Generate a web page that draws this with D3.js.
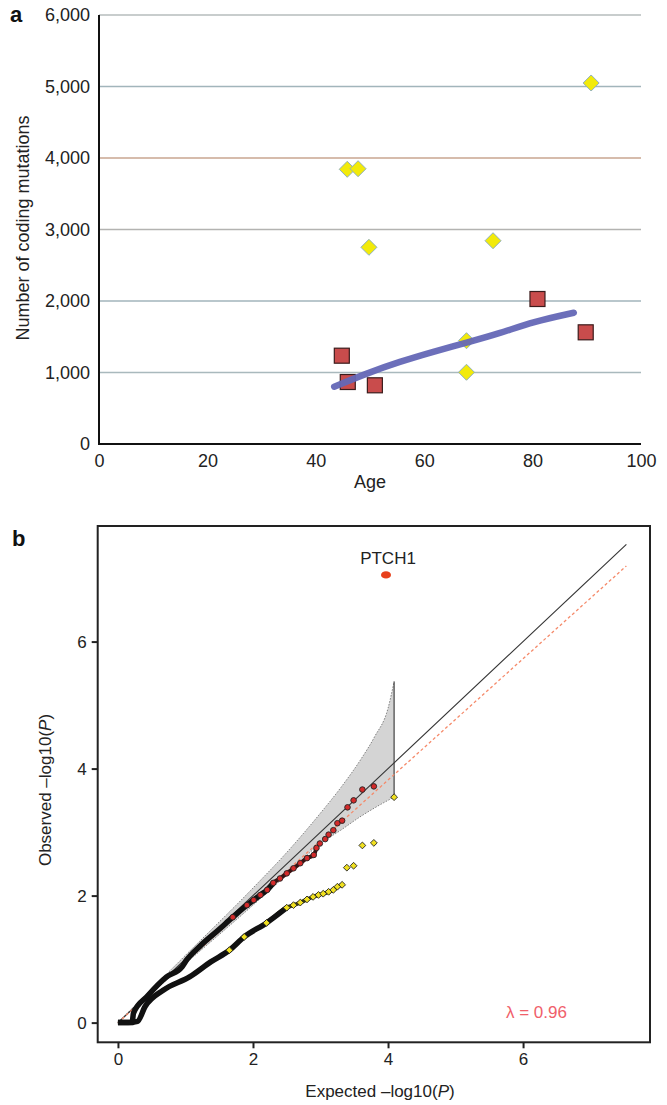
<!DOCTYPE html>
<html>
<head>
<meta charset="utf-8">
<script src="https://cdn.jsdelivr.net/npm/d3@7"></script>
<style>
  body { margin: 0; background: #fff; }
  svg { display: block; font-family: "Liberation Sans", Arial, Helvetica, sans-serif; }
</style>
</head>
<body>
<svg id="chart" width="667" height="1105"></svg>
<script>
// ---- panel a data ----
var ageTicks = [0, 20, 40, 60, 80, 100];
var mutTicks = [0, 1000, 2000, 3000, 4000, 5000, 6000];
var diamondAge = [45.8, 47.8, 49.8, 72.7, 90.8, 67.8, 67.8];
var diamondMut = [3842, 3850, 2751, 2843, 5049, 1445, 1003];
var squareAge = [44.8, 45.9, 50.9, 80.9, 89.8];
var squareMut = [1235, 867, 821, 2028, 1562];
var trendAge = [43.4, 49.4, 55.5, 61.7, 67.8, 74.0, 80.1, 87.6];
var trendMut = [801, 989, 1151, 1291, 1417, 1548, 1711, 1836];

// ---- panel b data ----
var qqTicks = [0, 2, 4, 6];
// upper series (red circles)
var redExp = [0, 0.1, 0.21, 0.23, 0.43, 0.72, 0.95, 1.02, 1.21, 1.5, 1.7, 1.91, 2.01, 2.11, 2.21, 2.30, 2.40, 2.50, 2.60, 2.70, 2.80, 2.90, 2.94, 2.99, 3.07, 3.12, 3.19, 3.25, 3.32, 3.40, 3.49, 3.62, 3.79];
var redObs = [0, 0, 0, 0.15, 0.41, 0.72, 0.88, 0.99, 1.20, 1.47, 1.66, 1.85, 1.93, 2.01, 2.09, 2.20, 2.27, 2.35, 2.43, 2.51, 2.59, 2.64, 2.75, 2.82, 2.89, 2.96, 3.03, 3.14, 3.18, 3.39, 3.50, 3.67, 3.72];
// lower series (yellow diamonds)
var yelExp = [0, 0.15, 0.29, 0.40, 0.67, 1.06, 1.38, 1.65, 1.87, 2.20, 2.50, 2.60, 2.70, 2.80, 2.89, 2.97, 3.04, 3.12, 3.19, 3.25, 3.32, 3.39, 3.49, 3.62, 3.79, 4.09];
var yelObs = [0, 0, 0.02, 0.25, 0.51, 0.72, 0.96, 1.14, 1.35, 1.57, 1.81, 1.85, 1.89, 1.94, 1.98, 2.01, 2.03, 2.06, 2.09, 2.14, 2.17, 2.44, 2.47, 2.79, 2.83, 3.55];
// confidence band
var bandExp = [0, 1, 2, 2.5, 3, 3.3, 3.6, 3.8, 4.0, 4.09];
var bandHi = [0, 1.06, 2.12, 2.68, 3.3, 3.7, 4.15, 4.5, 4.95, 5.37];
var bandLo = [0, 0.93, 1.85, 2.33, 2.82, 3.03, 3.25, 3.38, 3.5, 3.55];
var lineEnd = 7.53;
var lambda = 0.955;
var topGene = { name: "PTCH1", exp: 3.97, obs: 7.05 };

var svg = d3.select("#chart");

// ================= panel a =================
var xa = d3.scaleLinear().domain([0, 100]).range([99, 641]);
var ya = d3.scaleLinear().domain([0, 6000]).range([444, 15]);
var gridColors = {1000: "#a9b9bd", 2000: "#a2b5bb", 3000: "#b3b3b1", 4000: "#c9a690", 5000: "#a2b5bb", 6000: "#b6bcbc"};

var ga = svg.append("g");
ga.selectAll("line.grid").data(mutTicks.filter(function (d) { return d > 0; }))
  .enter().append("line")
  .attr("x1", xa(0)).attr("x2", xa(100))
  .attr("y1", function (d) { return ya(d); }).attr("y2", function (d) { return ya(d); })
  .attr("stroke", function (d) { return gridColors[d]; })
  .attr("stroke-width", 1.5);

var axA = ga.append("g").attr("transform", "translate(" + xa(0) + ",0)")
  .call(d3.axisLeft(ya).tickValues(mutTicks).tickSize(0).tickPadding(9).tickFormat(d3.format(",")));
axA.select(".domain").remove();
axA.selectAll("text").attr("font-size", 18).attr("fill", "#222").attr("font-family", null);

var axAx = ga.append("g").attr("transform", "translate(0," + ya(0) + ")")
  .call(d3.axisBottom(xa).tickValues(ageTicks).tickSize(0).tickPadding(10));
axAx.select(".domain").remove();
axAx.selectAll("text").attr("font-size", 18).attr("fill", "#222").attr("font-family", null);

// axis lines
ga.append("line").attr("x1", xa(0)).attr("x2", xa(0)).attr("y1", ya(6000)).attr("y2", ya(0) + 1)
  .attr("stroke", "#111").attr("stroke-width", 2);
ga.append("line").attr("x1", xa(0) - 1).attr("x2", xa(100)).attr("y1", ya(0)).attr("y2", ya(0))
  .attr("stroke", "#111").attr("stroke-width", 2);

// diamonds
ga.selectAll("path.dia").data(diamondAge).enter().append("path")
  .attr("d", "M0,-8L8,0L0,8L-8,0Z")
  .attr("transform", function (d, i) { return "translate(" + xa(d) + "," + ya(diamondMut[i]) + ")"; })
  .attr("fill", "#f2ea0a").attr("stroke", "#8fb0bd").attr("stroke-width", 1);

// squares
ga.selectAll("rect.sq").data(squareAge).enter().append("rect")
  .attr("x", function (d) { return xa(d) - 7.5; })
  .attr("y", function (d, i) { return ya(squareMut[i]) - 7.5; })
  .attr("width", 15).attr("height", 15)
  .attr("fill", "#c94c4c").attr("stroke", "#3b1c1c").attr("stroke-width", 1.2);

// trend line
var trendLine = d3.line().x(function (d) { return xa(d); }).y(function (d, i) { return ya(trendMut[i]); })
  .curve(d3.curveBasis);
ga.append("path").datum(trendAge).attr("d", trendLine)
  .attr("fill", "none").attr("stroke", "#6467b6").attr("stroke-width", 6.5)
  .attr("stroke-linecap", "round").attr("opacity", 0.95);

ga.append("text").attr("x", 370).attr("y", 488).attr("text-anchor", "middle")
  .attr("font-size", 18).attr("fill", "#222").text("Age");
ga.append("text").attr("transform", "translate(29,228) rotate(-90)").attr("text-anchor", "middle")
  .attr("font-size", 18).attr("fill", "#222").text("Number of coding mutations");
ga.append("text").attr("x", 10).attr("y", 22).attr("font-size", 22).attr("font-weight", "bold")
  .attr("fill", "#111").text("a");

// ================= panel b =================
var xb = d3.scaleLinear().domain([-0.3, 7.88]).range([97.7, 650]);
var yb = d3.scaleLinear().domain([-0.31, 7.82]).range([1042.3, 526]);
var gb = svg.append("g");

// band
var bandArea = d3.area().x(function (d) { return xb(d); })
  .y0(function (d, i) { return yb(bandLo[i]); }).y1(function (d, i) { return yb(bandHi[i]); })
  .curve(d3.curveMonotoneX);
gb.append("path").datum(bandExp).attr("d", bandArea).attr("fill", "#d4d4d4");
var edge = function (arr) {
  return d3.line().x(function (d) { return xb(d); }).y(function (d, i) { return yb(arr[i]); })
    .curve(d3.curveMonotoneX);
};
gb.append("path").datum(bandExp).attr("d", edge(bandHi)).attr("fill", "none")
  .attr("stroke", "#666").attr("stroke-width", 0.8).attr("stroke-dasharray", "1.5,1.5");
gb.append("path").datum(bandExp).attr("d", edge(bandLo)).attr("fill", "none")
  .attr("stroke", "#666").attr("stroke-width", 0.8).attr("stroke-dasharray", "1.5,1.5");
var bEnd = bandExp[bandExp.length - 1];
gb.append("line").attr("x1", xb(bEnd)).attr("x2", xb(bEnd))
  .attr("y1", yb(bandLo[bandLo.length - 1])).attr("y2", yb(bandHi[bandHi.length - 1]))
  .attr("stroke", "#333").attr("stroke-width", 1.1);

// reference lines
gb.append("line").attr("x1", xb(0)).attr("y1", yb(0)).attr("x2", xb(lineEnd)).attr("y2", yb(lineEnd))
  .attr("stroke", "#333").attr("stroke-width", 1.1);
gb.append("line").attr("x1", xb(0)).attr("y1", yb(0)).attr("x2", xb(lineEnd)).attr("y2", yb(lineEnd * lambda))
  .attr("stroke", "#f58a6a").attr("stroke-width", 1.3).attr("stroke-dasharray", "3,2.5");

// dense parts: overlapping markers read as a dark trace
var dense = function (ex, ob, maxX) {
  var pts = ex.map(function (d, i) { return [d, ob[i]]; }).filter(function (p) { return p[0] <= maxX; });
  return d3.line().x(function (p) { return xb(p[0]); }).y(function (p) { return yb(p[1]); })
    .curve(d3.curveMonotoneX)(pts);
};
gb.append("path").attr("d", dense(yelExp, yelObs, 3.32)).attr("fill", "none")
  .attr("stroke", "#3a3a10").attr("stroke-width", 4).attr("stroke-linejoin", "round");
gb.append("path").attr("d", dense(yelExp, yelObs, 2.5)).attr("fill", "none")
  .attr("stroke", "#111").attr("stroke-width", 5.5).attr("stroke-linejoin", "round");
gb.append("path").attr("d", dense(redExp, redObs, 2.95)).attr("fill", "none")
  .attr("stroke", "#3a1010").attr("stroke-width", 4).attr("stroke-linejoin", "round");
gb.append("path").attr("d", dense(redExp, redObs, 2.3)).attr("fill", "none")
  .attr("stroke", "#111").attr("stroke-width", 5.5).attr("stroke-linejoin", "round");

gb.selectAll("path.yd").data(yelExp.filter(function (d) { return d > 1.5; })).enter().append("path")
  .attr("d", "M0,-3.4L3.4,0L0,3.4L-3.4,0Z")
  .attr("transform", function (d) { var i = yelExp.indexOf(d); return "translate(" + xb(d) + "," + yb(yelObs[i]) + ")"; })
  .attr("fill", "#f0e020").attr("stroke", "#222").attr("stroke-width", 0.9);
gb.selectAll("circle.rd").data(redExp.filter(function (d) { return d > 1.5; })).enter().append("circle")
  .attr("cx", function (d) { return xb(d); })
  .attr("cy", function (d) { var i = redExp.indexOf(d); return yb(redObs[i]); })
  .attr("r", 2.8).attr("fill", "#d42a2a").attr("stroke", "#222").attr("stroke-width", 0.9);

// top gene
gb.append("ellipse").attr("cx", xb(topGene.exp)).attr("cy", yb(topGene.obs)).attr("rx", 5).attr("ry", 3.6)
  .attr("fill", "#e8401c");
gb.append("text").attr("x", xb(topGene.exp) + 2).attr("y", yb(topGene.obs) - 11).attr("text-anchor", "middle")
  .attr("font-size", 17).attr("fill", "#222").text(topGene.name);

// box
gb.append("rect").attr("x", 97.7).attr("y", 526).attr("width", 650 - 97.7).attr("height", 1042.3 - 526)
  .attr("fill", "none").attr("stroke", "#222").attr("stroke-width", 2);

var axBy = gb.append("g").attr("transform", "translate(97.7,0)")
  .call(d3.axisLeft(yb).tickValues(qqTicks).tickSize(6).tickPadding(5));
axBy.select(".domain").remove();
axBy.selectAll("line").attr("stroke", "#222").attr("stroke-width", 2);
axBy.selectAll("text").attr("font-size", 17).attr("fill", "#222").attr("font-family", null);

var axBx = gb.append("g").attr("transform", "translate(0,1042.3)")
  .call(d3.axisBottom(xb).tickValues(qqTicks).tickSize(6).tickPadding(5));
axBx.select(".domain").remove();
axBx.selectAll("line").attr("stroke", "#222").attr("stroke-width", 2);
axBx.selectAll("text").attr("font-size", 17).attr("fill", "#222").attr("font-family", null);

var xt = gb.append("text").attr("x", 380).attr("y", 1097).attr("text-anchor", "middle")
  .attr("font-size", 17).attr("fill", "#222");
xt.append("tspan").text("Expected \u2013log10(");
xt.append("tspan").attr("font-style", "italic").text("P");
xt.append("tspan").text(")");
var yt = gb.append("text").attr("transform", "translate(51,790) rotate(-90)").attr("text-anchor", "middle")
  .attr("font-size", 17).attr("fill", "#222");
yt.append("tspan").text("Observed \u2013log10(");
yt.append("tspan").attr("font-style", "italic").text("P");
yt.append("tspan").text(")");

gb.append("text").attr("x", 506).attr("y", 1018).attr("font-size", 17).attr("fill", "#f0606a")
  .text("\u03bb = 0.96");
gb.append("text").attr("x", 12).attr("y", 546).attr("font-size", 22).attr("font-weight", "bold")
  .attr("fill", "#111").text("b");
</script>
</body>
</html>
